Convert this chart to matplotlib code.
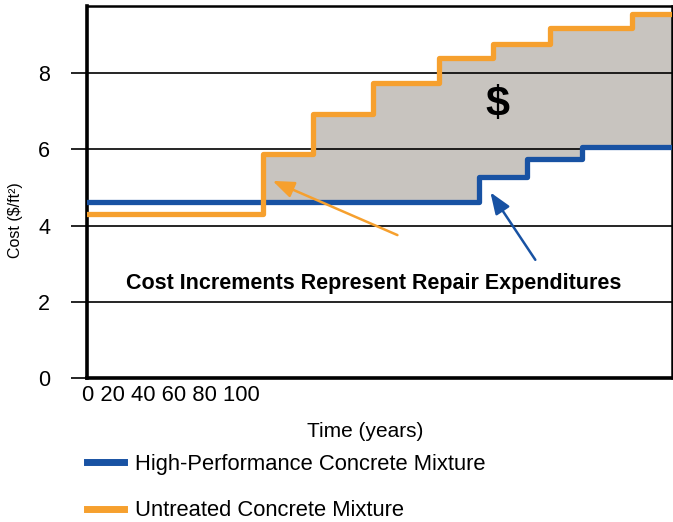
import numpy as np
import matplotlib
matplotlib.use('Agg')
import matplotlib.pyplot as plt

plt.rcParams['font.family'] = ['Liberation Sans', 'DejaVu Sans']

# step data (years, $/ft2)
hpc_times = [0, 67, 75.2, 84.6]
hpc_cost = [4.62, 5.28, 5.75, 6.06]
untreated_times = [0, 30, 38.7, 48.9, 60.2, 69.4, 79.1, 93.2]
untreated_cost = [4.3, 5.88, 6.93, 7.74, 8.4, 8.77, 9.19, 9.55]
end_year = 100

blue = '#1852a3'
orange = '#f6a02e'
fill = '#c8c4bf'


def step_at(times, vals, x):
    idx = np.searchsorted(times, x, side='right') - 1
    return np.array(vals)[idx]


t = np.array(sorted(set(hpc_times + untreated_times + [end_year])))
hpc_t = step_at(hpc_times, hpc_cost, t)
unt_t = step_at(untreated_times, untreated_cost, t)

fig = plt.figure(figsize=(6.73, 5.22), dpi=100)
ax = fig.add_axes([0.1293, 0.2759, 0.8692, 0.7126])

ax.fill_between(t, hpc_t, unt_t, where=unt_t >= hpc_t, step='post',
                color=fill, zorder=1)
l1, = ax.step(hpc_times + [end_year], hpc_cost + [hpc_cost[-1]], where='post',
              color=blue, lw=3.8, zorder=3, label='High-Performance Concrete Mixture')
l2, = ax.step(untreated_times + [end_year], untreated_cost + [untreated_cost[-1]], where='post',
              color=orange, lw=3.8, zorder=3, label='Untreated Concrete Mixture')

ax.set_xlim(0, end_year)
ax.set_ylim(0, 9.76)
ax.set_yticks([0, 2, 4, 6, 8])
ax.tick_params(axis='y', length=11.5, width=1.2, pad=15, labelsize=15.5, color='black')
ax.set_xticks([])
ax.grid(axis='y', color='black', lw=1.2, zorder=2)
ax.set_axisbelow(False)

for s in ['left', 'bottom']:
    ax.spines[s].set_linewidth(2.6)
for s in ['top', 'right']:
    ax.spines[s].set_linewidth(1.8)

ax.text(-0.009, -0.02, '0 20 40 60 80 100', transform=ax.transAxes,
        ha='left', va='top', fontsize=15.8)
ax.set_xlabel('Time (years)', fontsize=15)
ax.xaxis.set_label_coords(0.476, -0.118)
ax.set_ylabel('Cost ($/ft²)', fontsize=11.5)
ax.yaxis.set_label_coords(-0.11, 0.425)

ax.text(70.1, 7.17, '$', fontsize=31, fontweight='bold', ha='center', va='center', zorder=4)
ax.text(49, 2.48, 'Cost Increments Represent Repair Expenditures', fontsize=15.5,
        fontweight='bold', ha='center', va='center', zorder=4)

ax.annotate('', xy=(31.3, 5.2), xytext=(53.5, 3.72),
            arrowprops=dict(arrowstyle='-|>,head_length=1.3,head_width=0.5',
                            color=orange, lw=1.8), zorder=4)
ax.annotate('', xy=(68.7, 4.93), xytext=(76.9, 3.04),
            arrowprops=dict(arrowstyle='-|>,head_length=1.3,head_width=0.5',
                            color=blue, lw=1.8), zorder=4)

leg = ax.legend(handles=[l1, l2], loc='upper left', bbox_to_anchor=(-0.015, -0.18),
                frameon=False, fontsize=15.8, handlelength=1.7, labelspacing=1.17,
                handletextpad=0.5, borderaxespad=0)
for h in leg.legend_handles:
    h.set_linewidth(5)

fig.savefig('out.png', dpi=100)
